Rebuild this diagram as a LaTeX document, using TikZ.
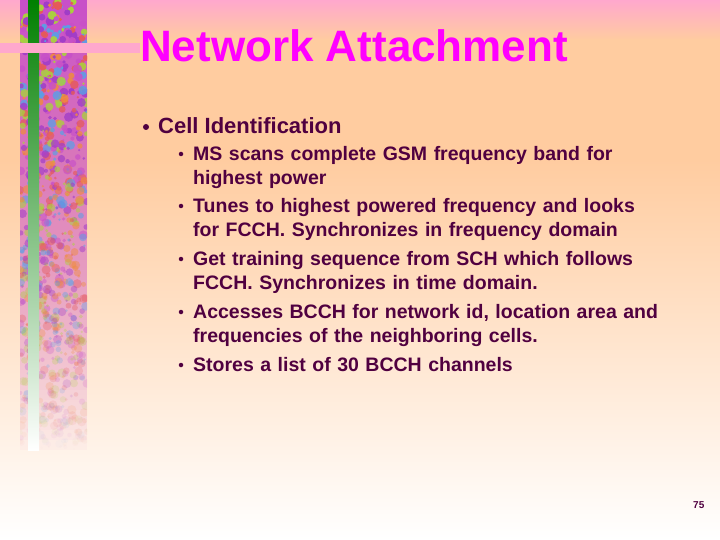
\documentclass[tikz,border=0pt]{standalone}
\usepackage{fontspec}
\setmainfont{Liberation Sans}
\definecolor{bgpink}{RGB}{255,168,205}
\definecolor{bgpeach}{RGB}{255,204,160}
\definecolor{titlemag}{RGB}{255,0,255}
\definecolor{txt}{RGB}{80,0,64}
\definecolor{tA}{RGB}{200,80,200}
\definecolor{tB}{RGB}{230,90,90}
\definecolor{tC}{RGB}{170,210,60}
\definecolor{tD}{RGB}{90,160,230}
\definecolor{tE}{RGB}{240,140,60}
\definecolor{tF}{RGB}{160,60,200}
\tikzset{sub/.style={anchor=north west, text=txt, font=\bfseries\fontsize{19.5}{24}\selectfont, align=left, text width=560pt, inner sep=0pt},
  dot/.style={circle, fill=txt, inner sep=0pt}}
\begin{document}
\begin{tikzpicture}[x=1pt,y=-1pt]
\useasboundingbox (0,0) rectangle (720,540);
\shade[top color=bgpink, bottom color=bgpeach] (0,0) rectangle (720,40);
\shade[top color=bgpeach, bottom color=bgpeach] (0,39.5) rectangle (720,160);
\shade[top color=bgpeach, bottom color=white] (0,159.5) rectangle (720,540);
\begin{scope}
\clip (20,0) rectangle (87,450);
\foreach \s in {0,...,44}{
  \pgfmathsetmacro{\op}{max(0,1-\s/45)^0.9}
  \fill[tA, opacity=\op] (20,\s*10) rectangle (87,\s*10+10.3);
}
\pgfmathsetseed{7}
\foreach \i in {1,...,900}{
  \pgfmathsetmacro{\xx}{20+rnd*67}
  \pgfmathsetmacro{\yy}{rnd*450}
  \pgfmathsetmacro{\op}{max(0,1-\yy/450)^0.9}
  \pgfmathtruncatemacro{\cc}{int(rnd*6)}
  \ifcase\cc \def\col{tA}\or\def\col{tB}\or\def\col{tC}\or\def\col{tD}\or\def\col{tE}\else\def\col{tF}\fi
  \fill[\col, opacity=\op] (\xx,\yy) circle (1.2+rnd*3.5);
}
\end{scope}
\shade[top color=green!50!black, middle color=green!45!white, bottom color=white] (28,0) rectangle (39,450);
\fill[bgpink] (0,43) rectangle (140,53);
\node[anchor=base west, inner sep=0pt, text=titlemag, font=\bfseries\fontsize{44}{50}\selectfont] (title) at (140,62) {Network Attachment};
\node[dot, minimum size=6pt] (b0) at (146,127) {};
\node[anchor=base west, inner sep=0pt, text=txt, font=\bfseries\fontsize{22}{24}\selectfont] (l0) at (158,134) {Cell Identification};
\foreach \yy/\t [count=\k] in {146/{MS scans complete GSM frequency band for\\highest power},
  198/{Tunes to highest powered frequency and looks\\for FCCH. Synchronizes in frequency domain},
  251/{Get training sequence from SCH which follows\\FCCH. Synchronizes in time domain.},
  304/{Accesses BCCH for network id, location area and\\frequencies of the neighboring cells.},
  357/{Stores a list of 30 BCCH channels}}{
  \node[dot, minimum size=4.5pt] (d\k) at (181,\yy+8) {};
  \node[sub] (s\k) at (193,\yy) {\t};
}
\node[anchor=base west, inner sep=0pt, text=txt, font=\bfseries\fontsize{10}{11}\selectfont] (pg) at (693,508) {75};
\end{tikzpicture}
\end{document}
